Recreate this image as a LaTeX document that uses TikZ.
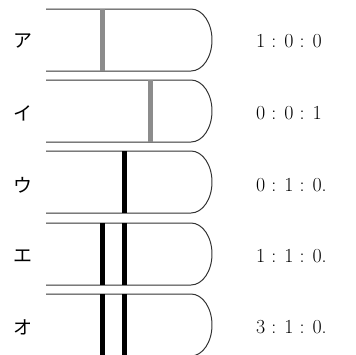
\documentclass[tikz,border=0pt]{standalone}
\usepackage{fontspec}
\newfontfamily\cjk{Noto Sans CJK JP}
\usetikzlibrary{positioning}
\tikzset{
  tube/.style={draw=black!80, line width=1pt},
  grayband/.style={fill=black!45, draw=none},
  blackband/.style={fill=black, draw=none},
  kana/.style={font=\cjk\fontsize{19}{19}\selectfont, inner sep=0pt},
  ratio/.style={font=\fontsize{20}{20}\selectfont, anchor=west, inner sep=0pt}
}

\begin{document}
\begin{tikzpicture}[x=1bp,y=-1bp]
  \useasboundingbox (0,0) rectangle (356,355);
  % tubes
  \foreach \i/\t in {1/9,2/80,3/151,4/223,5/294}{
    \draw[tube] (46,\t) -- (191,\t) arc[start angle=90,end angle=-90,x radius=21bp,y radius=31bp] -- (46,\t+62);
  }
  % bands
  \fill[grayband] (100,9) rectangle (105,71);
  \fill[grayband] (148,80) rectangle (153,142);
  \fill[blackband] (122,151) rectangle (127,213);
  \foreach \t in {223,294}{
    \fill[blackband] (100,\t) rectangle (105,\t+62);
    \fill[blackband] (122,\t) rectangle (127,\t+62);
  }
  % labels
  \foreach \i/\y/\k/\r in {1/41/ア/{1 : 0 : 0},2/113/イ/{0 : 0 : 1},3/185/ウ/{0 : 1 : 0.},4/256/エ/{1 : 1 : 0.},5/327/オ/{3 : 1 : 0.}}{
    \node[kana] (k\i) at (23,\y) {\k};
    \node[ratio] (r\i) at (256,\y) {\r};
  }
\end{tikzpicture}
\end{document}
